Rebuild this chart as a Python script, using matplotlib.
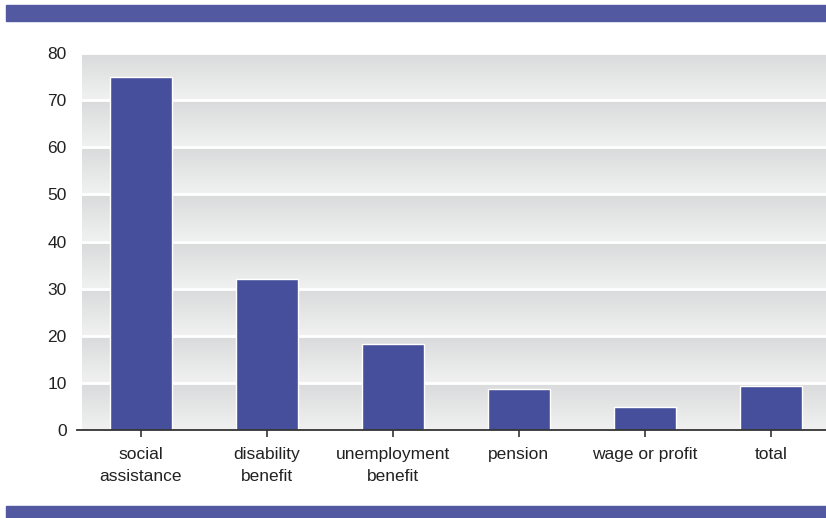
import matplotlib
matplotlib.use("Agg")
import matplotlib.pyplot as plt
import numpy as np
from matplotlib.colors import LinearSegmentedColormap

categories = ["social\nassistance", "disability\nbenefit", "unemployment\nbenefit",
              "pension", "wage or profit", "total"]
values = [75, 32, 18.3, 8.7, 4.9, 9.3]
yticks = [0, 10, 20, 30, 40, 50, 60, 70, 80]

plt.rcParams['font.family'] = ['Liberation Sans', 'DejaVu Sans']

W, H = 826, 518
fig = plt.figure(figsize=(W / 100, H / 100), dpi=100)
fig.patch.set_facecolor("white")

ax_l, ax_r, ax_t, ax_b = 82, 826, 53, 430
ax = fig.add_axes([ax_l / W, 1 - ax_b / H, (ax_r - ax_l) / W, (ax_b - ax_t) / H])

x = np.arange(len(categories))
xlim = (-0.468, len(categories) - 1 + 0.437)

# gradient bands
grad = np.linspace(0, 1, 64).reshape(-1, 1)
cmap = LinearSegmentedColormap.from_list("g", ["#f1f1f1", "#d9dadb"])
for lo, hi in zip(yticks[:-1], yticks[1:]):
    ax.imshow(grad, extent=(xlim[0], xlim[1], lo, hi), origin="lower",
              aspect="auto", cmap=cmap, zorder=0, interpolation="bilinear")
for t in yticks[1:]:
    ax.axhline(t, color="white", lw=2, zorder=1)
ax.set_xlim(*xlim)
ax.set_ylim(0, 80)

ax.bar(x, values, width=0.49, color="#464f9c", edgecolor="white", linewidth=1, zorder=2)

for s in ["top", "right", "left", "bottom"]:
    ax.spines[s].set_visible(False)
ax.plot([xlim[0] - 0.04, xlim[1]], [0, 0], color="#333333", lw=1.3,
        clip_on=False, zorder=3)

ax.set_xticks(x)
ax.set_xticklabels(categories, fontsize=12.5, color="#222222", linespacing=1.65)
ax.tick_params(axis="x", direction="inout", length=10, width=1.2, color="#333333", pad=7)
ax.set_yticks(yticks)
ax.set_yticklabels([str(t) for t in yticks], fontsize=12.5, color="#222222")
ax.tick_params(axis="y", length=0, pad=11)

# decorative bands
band_color = "#5359a1"
fig.patches.append(plt.Rectangle((6 / W, 1 - 21 / H), (W - 6) / W, 16 / H,
                                 transform=fig.transFigure, color=band_color, zorder=0))
fig.patches.append(plt.Rectangle((6 / W, 0), (W - 6) / W, 12 / H,
                                 transform=fig.transFigure, color=band_color, zorder=0))

fig.savefig("out.png", dpi=100)
